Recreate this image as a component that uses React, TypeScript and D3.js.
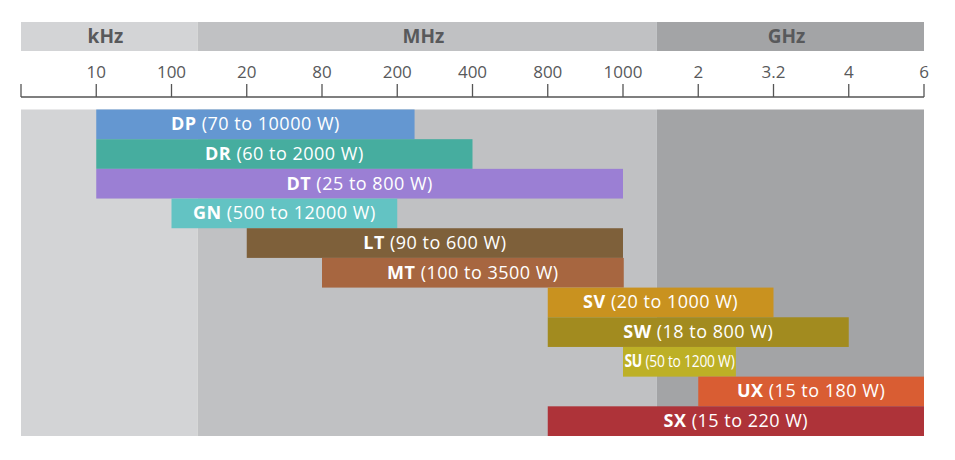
import React, { useLayoutEffect, useRef, useState } from "react";
import * as d3 from "d3";

// Tick labels along the (ordinal-like) frequency axis, index 0..11
const tickLabels = ["10", "100", "20", "80", "200", "400", "800", "1000", "2", "3.2", "4", "6"];

// Frequency unit bands (in tick-index units)
const unitNames = ["kHz", "MHz", "GHz"];
const unitStarts = [-1, 1.35, 7.45];
const unitEnds = [1.35, 7.45, 11];
const unitColors = ["#d3d4d6", "#c0c1c3", "#a3a4a6"];

// Product series
const seriesNames = ["DP", "DR", "DT", "GN", "LT", "MT", "SV", "SW", "SU", "UX", "SX"];
const powerRanges = [
  "(70 to 10000 W)",
  "(60 to 2000 W)",
  "(25 to 800 W)",
  "(500 to 12000 W)",
  "(90 to 600 W)",
  "(100 to 3500 W)",
  "(20 to 1000 W)",
  "(18 to 800 W)",
  "(50 to 1200 W)",
  "(15 to 180 W)",
  "(15 to 220 W)",
];
const startIdx = [0, 0, 0, 1, 2, 3, 6, 6, 7, 8, 6];
const endIdx = [4.23, 5, 7, 4, 7, 7.01, 9, 10, 8.5, 11, 11];
const seriesColors = [
  "#6497d1", "#46ad9f", "#9b7fd4", "#63c3c3", "#7e603a", "#a76640",
  "#c9921f", "#a28b1f", "#bdb026", "#d95d33", "#ae3339",
];

const W = 955;
const H = 460;
const FONT = "'Open Sans', 'DejaVu Sans', sans-serif";

function CondensedLabel({
  cx,
  cy,
  name,
  range,
  targetWidth,
}: {
  cx: number;
  cy: number;
  name: string;
  range: string;
  targetWidth: number;
}) {
  const ref = useRef<SVGTextElement>(null);
  const [sx, setSx] = useState(0.75);
  useLayoutEffect(() => {
    if (ref.current) {
      const w = ref.current.getComputedTextLength();
      if (w > 0) setSx(targetWidth / w);
    }
  }, [targetWidth, name, range]);
  return (
    <g transform={`translate(${cx},${cy}) scale(${sx},1)`}>
      <text
        ref={ref}
        x={0}
        y={0}
        textAnchor="middle"
        dominantBaseline="middle"
        fontFamily={FONT}
        fontSize={17}
        fill="#fff"
        letterSpacing={-0.3}
      >
        <tspan fontWeight="bold">{name}</tspan>
        <tspan>{" " + range}</tspan>
      </text>
    </g>
  );
}

export default function App() {
  const x = d3.scaleLinear().domain([-1, 11]).range([21, 924]);
  const y = d3
    .scaleBand<string>()
    .domain(seriesNames)
    .range([109.5, 436])
    .padding(0);

  const headerTop = 22;
  const headerBottom = 51;
  const axisY = 97;
  const tickLen = 13;
  const bodyTop = 109.5;
  const bodyBottom = 436;

  const tickIdx = d3.range(-1, tickLabels.length);

  return (
    <svg width={W} height={H} style={{ position: "absolute", left: 0, top: 0 }}>
      {/* header bands */}
      {unitNames.map((u, i) => (
        <g key={u}>
          <rect
            x={x(unitStarts[i])}
            y={headerTop}
            width={x(unitEnds[i]) - x(unitStarts[i])}
            height={headerBottom - headerTop}
            fill={unitColors[i]}
          />
          <text
            x={(x(unitStarts[i]) + x(unitEnds[i])) / 2 - 4}
            y={(headerTop + headerBottom) / 2 + 1}
            textAnchor="middle"
            dominantBaseline="middle"
            fontFamily={FONT}
            fontWeight="bold"
            fontSize={19}
            fill="#58595b"
          >
            {u}
          </text>
        </g>
      ))}

      {/* axis */}
      <line x1={x(-1)} x2={x(11)} y1={axisY} y2={axisY} stroke="#555" strokeWidth={1.3} />
      {tickIdx.map((t) => (
        <g key={t}>
          <line
            x1={x(t)}
            x2={x(t)}
            y1={axisY}
            y2={axisY - tickLen}
            stroke="#555"
            strokeWidth={1.3}
          />
          {t >= 0 && (
            <text
              x={x(t)}
              y={78}
              textAnchor="middle"
              fontFamily={FONT}
              fontSize={17}
              fill="#58595b"
            >
              {tickLabels[t]}
            </text>
          )}
        </g>
      ))}

      {/* body bands */}
      {unitNames.map((u, i) => (
        <rect
          key={"b" + u}
          x={x(unitStarts[i])}
          y={bodyTop}
          width={x(unitEnds[i]) - x(unitStarts[i])}
          height={bodyBottom - bodyTop}
          fill={unitColors[i]}
        />
      ))}

      {/* bars */}
      {seriesNames.map((s, i) => {
        const x0 = x(startIdx[i]);
        const x1 = x(endIdx[i]);
        const yy = y(s)!;
        const bh = y.bandwidth();
        const cx = (x0 + x1) / 2;
        const condensed = s === "SU";
        return (
          <g key={s}>
            <rect x={x0} y={yy} width={x1 - x0} height={bh} fill={seriesColors[i]} />
            {condensed ? (
              <CondensedLabel
                cx={cx}
                cy={yy + bh / 2 + 1}
                name={s}
                range={powerRanges[i]}
                targetWidth={110}
              />
            ) : (
              <text
                x={cx}
                y={yy + bh / 2 + 1}
                textAnchor="middle"
                dominantBaseline="middle"
                fontFamily={FONT}
                fontSize={18}
                letterSpacing={0.5}
                fill="#fff"
              >
                <tspan fontWeight="bold">{s}</tspan>
                <tspan>{" " + powerRanges[i]}</tspan>
              </text>
            )}
          </g>
        );
      })}
    </svg>
  );
}
